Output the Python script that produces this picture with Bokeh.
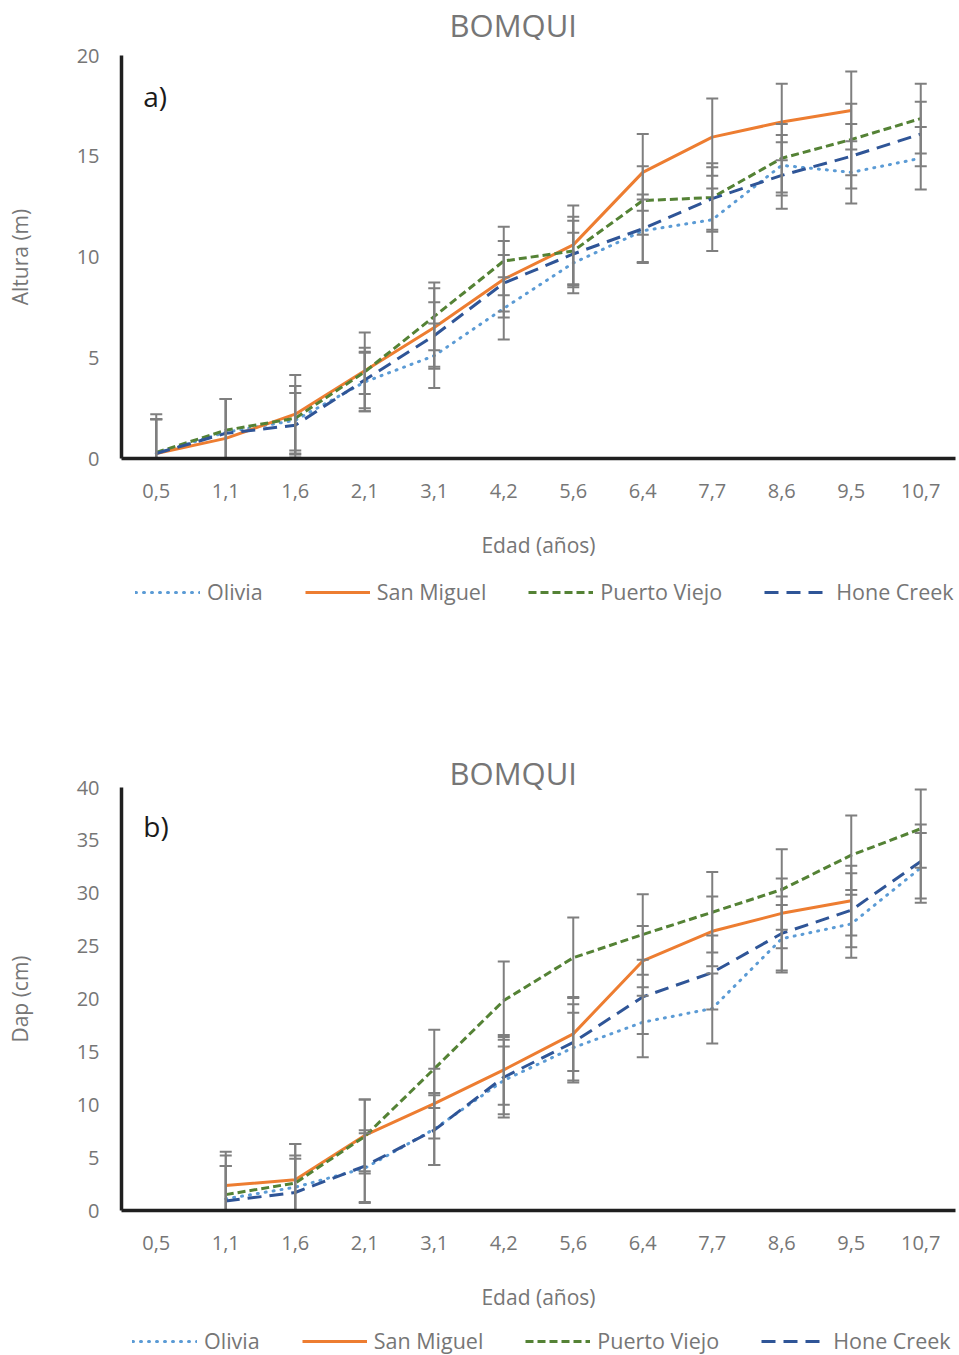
import math
from bokeh.plotting import figure
from bokeh.models import FactorRange, FixedTicker, Legend, LegendItem, Spacer
from bokeh.core.properties import value
from bokeh.layouts import column
from bokeh.embed import file_html
from bokeh.resources import INLINE

nan = float("nan")

ages = ["0,5", "1,1", "1,6", "2,1", "3,1", "4,2", "5,6", "6,4", "7,7", "8,6", "9,5", "10,7"]
series_names = ["Olivia", "San Miguel", "Puerto Viejo", "Hone Creek"]

# a) Altura (m)
olivia_h = [0.25, 1.3, 1.9, 3.8, 5.1, 7.45, 9.7, 11.3, 11.85, 14.55, 14.2, 14.9]
olivia_h_sd = [1.7, 1.65, 1.7, 1.45, 1.6, 1.55, 1.5, 1.55, 1.55, 1.5, 1.55, 1.55]
sanmiguel_h = [0.25, 1.0, 2.2, 4.35, 6.5, 8.9, 10.6, 14.2, 15.95, 16.7, 17.27, nan]
sanmiguel_h_sd = [1.7, 1.95, 1.95, 1.15, 1.95, 1.9, 1.95, 1.9, 1.92, 1.9, 1.93, nan]
puertoviejo_h = [0.3, 1.4, 2.0, 4.3, 7.05, 9.8, 10.3, 12.8, 12.95, 14.9, 15.83, 16.87]
puertoviejo_h_sd = [1.9, 1.55, 1.6, 1.95, 1.68, 1.7, 1.7, 1.7, 1.7, 1.7, 1.77, 1.73]
honecreek_h = [0.25, 1.25, 1.65, 3.9, 6.1, 8.7, 10.15, 11.4, 12.9, 14.05, 15.0, 16.1]
honecreek_h_sd = [1.7, 1.7, 1.6, 1.4, 1.65, 1.4, 1.65, 1.7, 1.55, 1.65, 1.6, 1.6]

# b) Dap (cm)
olivia_d = [nan, 1.1, 2.2, 4.0, 7.7, 12.3, 15.4, 17.8, 19.1, 25.7, 27.1, 32.4]
olivia_d_sd = [nan, 3.1, 3.0, 3.3, 3.4, 3.2, 3.3, 3.3, 3.3, 3.2, 3.2, 3.3]
sanmiguel_d = [nan, 2.36, 2.9, 7.1, 10.1, 13.3, 16.7, 23.6, 26.4, 28.1, 29.3, nan]
sanmiguel_d_sd = [nan, 3.2, 3.4, 3.4, 3.3, 3.3, 3.5, 3.3, 3.3, 3.3, 3.3, nan]
puertoviejo_d = [nan, 1.5, 2.6, 7.0, 13.4, 19.85, 23.9, 26.1, 28.2, 30.35, 33.6, 36.1]
puertoviejo_d_sd = [nan, 3.7, 3.7, 3.5, 3.7, 3.7, 3.8, 3.8, 3.8, 3.8, 3.75, 3.7]
honecreek_d = [nan, 0.9, 1.7, 4.2, 7.6, 12.6, 15.9, 20.2, 22.5, 26.2, 28.4, 33.0]
honecreek_d_sd = [nan, 3.3, 3.2, 3.4, 3.3, 3.8, 3.6, 3.5, 3.5, 3.5, 3.5, 3.5]

y_ticks_h = [0, 5, 10, 15, 20]
y_ticks_d = [0, 5, 10, 15, 20, 25, 30, 35, 40]

FONT = "Open Sans"
GRAY = "#767676"
styles = [
    dict(color="#5B9BD5", dash="1 7", cap="round", width=3),
    dict(color="#ED7D31", dash="solid", cap="butt", width=3),
    dict(color="#548235", dash="8 4", cap="butt", width=3),
    dict(color="#2F5597", dash="14 8", cap="butt", width=3),
]


def make_fig(ylabel, panel, ymax, yticks, vals, sds, fh, top, panel_y):
    p = figure(x_range=FactorRange(*ages, range_padding=0), y_range=(0, ymax),
               frame_width=834, frame_height=fh,
               min_border_left=121, min_border_right=4,
               min_border_top=top, min_border_bottom=112,
               output_backend="svg", toolbar_location=None)
    p.outline_line_color = None
    p.xgrid.visible = False
    p.ygrid.visible = False
    p.background_fill_color = "white"
    p.border_fill_color = "white"

    for name, v, st in zip(series_names, vals, styles):
        p.line(ages, v, line_color=st["color"], line_width=st["width"],
               line_dash=st["dash"], line_cap=st["cap"], line_join="round")

    for v, sd in zip(vals, sds):
        lo = [a - b for a, b in zip(v, sd)]
        hi = [a + b for a, b in zip(v, sd)]
        p.segment(ages, lo, ages, hi, line_color="#7F7F7F", line_width=2)
        p.scatter(ages, lo, marker="dash", size=12, line_color="#7F7F7F", line_width=2)
        p.scatter(ages, hi, marker="dash", size=12, line_color="#7F7F7F", line_width=2)

    p.text(x=[ages[0]], y=[panel_y], text=[panel], x_offset=-13,
           text_baseline="middle", text_font=value(FONT),
           text_font_size="28px", text_color="#1a1a1a")

    xa = p.xaxis[0]
    xa.axis_label = "Edad (años)"
    xa.axis_line_width = 3.5
    xa.axis_line_color = "#1f1f1f"
    xa.major_tick_line_color = None
    xa.minor_tick_line_color = None
    xa.major_tick_out = 0
    xa.major_label_standoff = 25
    xa.axis_label_standoff = 30
    xa.major_label_text_font = FONT
    xa.major_label_text_font_size = "20px"
    xa.major_label_text_color = GRAY
    xa.axis_label_text_font = FONT
    xa.axis_label_text_font_size = "21px"
    xa.axis_label_text_font_style = "normal"
    xa.axis_label_text_color = GRAY

    ya = p.yaxis[0]
    ya.axis_label = ylabel
    ya.ticker = FixedTicker(ticks=yticks)
    ya.axis_line_width = 3.5
    ya.axis_line_color = "#1f1f1f"
    ya.major_tick_line_color = None
    ya.minor_tick_line_color = None
    ya.major_tick_out = 0
    ya.major_label_standoff = 22
    ya.axis_label_standoff = 40
    ya.major_label_text_font = FONT
    ya.major_label_text_font_size = "20px"
    ya.major_label_text_color = GRAY
    ya.axis_label_text_font = FONT
    ya.axis_label_text_font_size = "21px"
    ya.axis_label_text_font_style = "normal"
    ya.axis_label_text_color = GRAY
    return p


def blank(height):
    q = figure(width=959, height=height, x_range=(0, 834), y_range=(0, height),
               x_axis_type=None, y_axis_type=None,
               min_border_left=121, min_border_right=4,
               min_border_top=0, min_border_bottom=0,
               output_backend="svg", toolbar_location=None)
    q.outline_line_color = None
    q.xgrid.visible = False
    q.ygrid.visible = False
    return q


def make_header(text, height, y_from_bottom):
    q = blank(height)
    q.text(x=[449 - 121], y=[y_from_bottom], text=[text], text_baseline="middle",
           text_align="left", text_font=value(FONT), text_font_size="31px",
           text_color=GRAY)
    return q


def make_legend(height, x0, y0):
    q = blank(height)
    items = []
    for name, st in zip(series_names, styles):
        r = q.line(x=[-20, -10], y=[-20, -20], line_color=st["color"], line_width=st["width"],
                   line_dash=st["dash"], line_cap=st["cap"])
        items.append(LegendItem(label=name, renderers=[r]))
    leg = Legend(items=items, orientation="horizontal", location=(x0, y0),
                 glyph_width=65, glyph_height=20, label_standoff=7, spacing=42,
                 padding=0, margin=0, border_line_color=None,
                 background_fill_alpha=0,
                 label_text_font=FONT, label_text_font_size="21.5px",
                 label_text_color=GRAY)
    q.add_layout(leg, "center")
    return q


h1 = make_header("BOMQUI", 40, 16)
p1 = make_fig("Altura (m)", "a)", 20, y_ticks_h,
              [olivia_h, sanmiguel_h, puertoviejo_h, honecreek_h],
              [olivia_h_sd, sanmiguel_h_sd, puertoviejo_h_sd, honecreek_h_sd],
              403, 15, 18.0)
leg1 = make_legend(50, 14, 14)

p2 = make_fig("Dap (cm)", "b)", 40, y_ticks_d,
              [olivia_d, sanmiguel_d, puertoviejo_d, honecreek_d],
              [olivia_d_sd, sanmiguel_d_sd, puertoviejo_d_sd, honecreek_d_sd],
              423, 55, 36.4)
p2.title.text = "BOMQUI"
p2.title.align = "left"
p2.title.offset = 449 - 121
p2.title.standoff = -12
p2.title.text_font = FONT
p2.title.text_font_size = "31px"
p2.title.text_font_style = "normal"
p2.title.text_color = GRAY
leg2 = make_legend(33, 11, 0)

layout = column(h1, p1, leg1, Spacer(width=959, height=112), p2, leg2, spacing=0)
open("out.html", "w").write(file_html(layout, INLINE))
